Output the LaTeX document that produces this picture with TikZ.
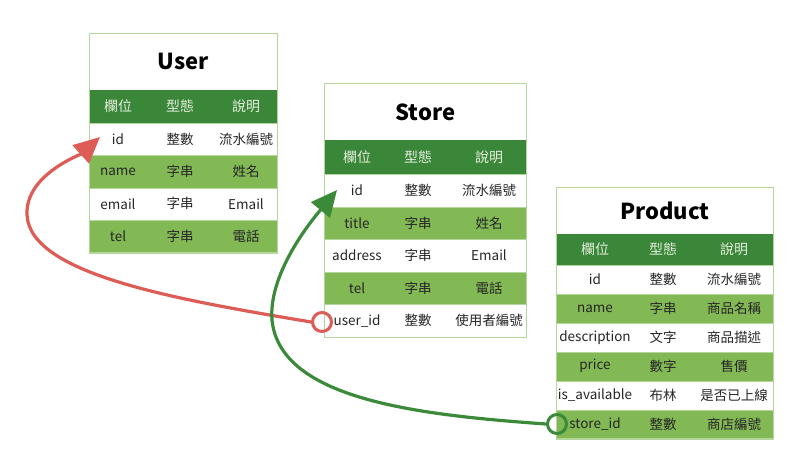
\documentclass[tikz,border=0pt]{standalone}
\usepackage{fontspec}
\setmainfont{Noto Sans CJK TC}
\usetikzlibrary{arrows.meta}
\definecolor{hdr}{RGB}{59,135,58}
\definecolor{lite}{RGB}{130,185,85}
\definecolor{bord}{RGB}{178,214,156}
\definecolor{hdrtxt}{RGB}{228,238,220}
\definecolor{redc}{RGB}{222,92,86}
\definecolor{grnc}{RGB}{58,138,58}
\tikzset{
  cellbox/.style={rectangle, draw=bord, line width=0.8pt, inner sep=0pt, anchor=north west},
  titletxt/.style={font=\fontsize{22}{25}\selectfont\bfseries, text=black},
  hdrtext/.style={font=\fontsize{14}{16}\selectfont, text=hdrtxt, inner sep=0pt},
  celltxt/.style={font=\fontsize{13.5}{16}\selectfont, text=black!85, inner sep=0pt},
  fkring/.style={circle, line width=3pt, minimum size=19pt, inner sep=0pt},
  relarrow/.style={line width=3.2pt, line cap=round, -{Triangle[length=26pt,width=24pt,#1]}},
}
\newcommand\ertable[3]{%
  \node[cellbox, fill=white, minimum width=\TW pt, minimum height=\TT pt] (#1-t) at (\TX,\TY) {};
  \node[titletxt] (#1-tt) at (#1-t.center) {#2};
  \pgfmathsetmacro\hy{\TY+\TT}
  \node[cellbox, fill=hdr, draw=hdr, minimum width=\TW pt, minimum height=\TH pt] (#1-h) at (\TX,\hy) {};
  \pgfmathsetmacro\hc{\hy+\TH/2}
  \node[hdrtext] (#1-h1) at ({\TX+\CA},\hc) {欄位};
  \node[hdrtext] (#1-h2) at ({\TX+\CB},\hc) {型態};
  \node[hdrtext] (#1-h3) at ({\TX+\CC},\hc) {說明};
  \foreach \a/\b/\c [count=\i] in {#3} {
    \ifodd\i \def\rc{white}\else \def\rc{lite}\fi
    \pgfmathsetmacro\ry{\TY+\TT+\TH+(\i-1)*\TR}
    \pgfmathsetmacro\rcy{\ry+\TR/2}
    \node[cellbox, fill=\rc, minimum width=\TW pt, minimum height=\TR pt] (#1-r\i) at (\TX,\ry) {};
    \node[celltxt] (#1-r\i-a) at ({\TX+\CA},\rcy) {\a};
    \node[celltxt] (#1-r\i-b) at ({\TX+\CB},\rcy) {\b};
    \node[celltxt] (#1-r\i-c) at ({\TX+\CC},\rcy) {\c};
    \xdef\lastrow{\i}
  }
  \draw[bord, line width=1pt] (#1-t.north west) rectangle (#1-r\lastrow.south east);
}
\begin{document}
\begin{tikzpicture}[x=1pt,y=-1pt]
\useasboundingbox[fill=white] (0,0) rectangle (800,455);
% User
\def\TX{89}\def\TY{33}\def\TW{188}\def\TT{57}\def\TH{33}\def\TR{32.3}
\def\CA{29}\def\CB{91}\def\CC{157}
\ertable{user}{User}{id/整數/流水編號, name/字串/姓名, email/字串/Email, tel/字串/電話}
% Store
\def\TX{324}\def\TY{83}\def\TW{202}\def\TT{57}\def\TH{34}\def\TR{32.6}
\def\CA{33}\def\CB{94}\def\CC{165}
\ertable{store}{Store}{id/整數/流水編號, title/字串/姓名, address/字串/Email, tel/字串/電話, user\_id/整數/使用者編號}
% Product
\def\TX{556}\def\TY{187}\def\TW{217}\def\TT{47}\def\TH{31}\def\TR{28.9}
\def\CA{39}\def\CB{107}\def\CC{178}
\ertable{product}{Product}{id/整數/流水編號, name/字串/商品名稱, description/文字/商品描述, price/數字/售價, is\_available/布林/是否已上線, store\_id/整數/商店編號}
% relations
\node[fkring, draw=redc] (sfk) at (322,322) {};
\node[fkring, draw=grnc] (pfk) at (557,424) {};
\coordinate (uarr) at (100,137);
\coordinate (sarr) at (337,190);
\draw[relarrow={fill=redc}, draw=redc] (sfk.west) .. controls (180,300) and (30,275) .. (27,215) .. controls (25,175) and (80,155) .. (uarr);
\draw[relarrow={fill=grnc}, draw=grnc] (pfk.west) .. controls (420,415) and (280,400) .. (272,320) .. controls (268,270) and (318,213) .. (sarr);
\end{tikzpicture}
\end{document}
